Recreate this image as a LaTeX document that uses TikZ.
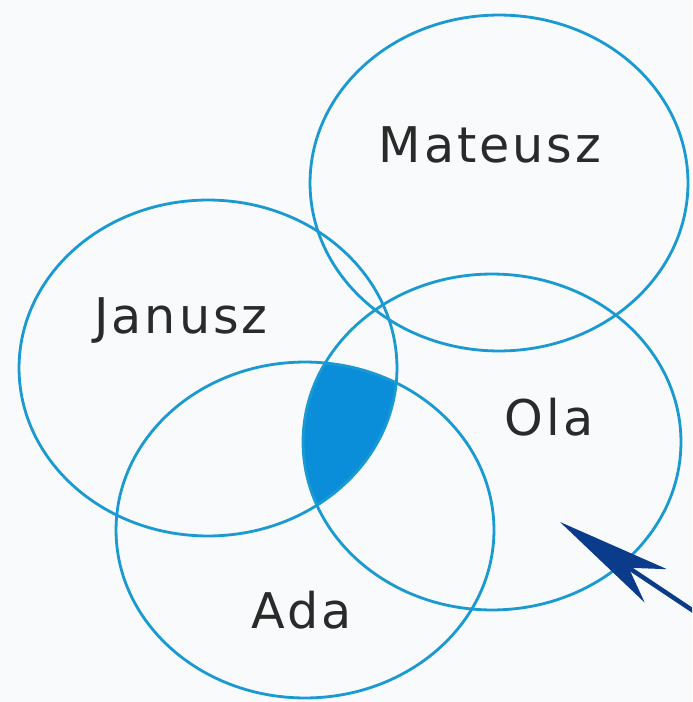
\documentclass[tikz,border=0pt]{standalone}
\usepackage{fontspec}
\setmainfont{DejaVu Sans}
\newfontfamily\wholabel[LetterSpace=6]{DejaVu Sans}
\usepackage{tikz}
\usetikzlibrary{shapes.geometric, arrows.meta}
\definecolor{vennline}{HTML}{1B9AD2}
\definecolor{vennfill}{HTML}{0A8EDA}
\definecolor{venntext}{HTML}{2A2A2A}
\definecolor{vennarrow}{HTML}{0B3C8C}
\definecolor{vennbg}{HTML}{F8FAFB}

\begin{document}
\begin{tikzpicture}[
    x=0.02cm, y=-0.02cm,
    set/.style={draw=vennline,line width=1.6pt,ellipse,minimum width=7.56cm,minimum height=6.72cm,inner sep=0pt},
    who/.style={text=venntext,font=\wholabel\fontsize{28}{32}\selectfont,anchor=base},
    arr/.style={-{Stealth[length=2.3cm,width=0.8cm,inset=0.65cm]},line width=2.6pt,vennarrow},
  ]
    \useasboundingbox (0,0) rectangle (692,702);
    \fill[vennbg] (0,0) rectangle (692,702);
    \clip (0,0) rectangle (692,702);

    % Janusz, Ola and Ada together
    \begin{scope}
      \clip (208,368) ellipse [x radius=189, y radius=168];
      \clip (492,442) ellipse [x radius=189, y radius=168];
      \fill[vennfill] (305,530) ellipse [x radius=189, y radius=168];
    \end{scope}

    \node[set] (mateusz) at (499,183) {};
    \node[set] (janusz) at (208,368) {};
    \node[set] (ola) at (492,442) {};
    \node[set] (ada) at (305,530) {};

    \node[who] (lmateusz) at (490,163) {Mateusz};
    \node[who] (ljanusz) at (181,333) {Janusz};
    \node[who] (lola) at (549,435) {Ola};
    \node[who] (lada) at (302,628) {Ada};

    \coordinate (tail) at (710,622);
    \coordinate (head) at (560,522);
    \draw[arr] (tail) -- (head);
  \end{tikzpicture}
\end{document}
